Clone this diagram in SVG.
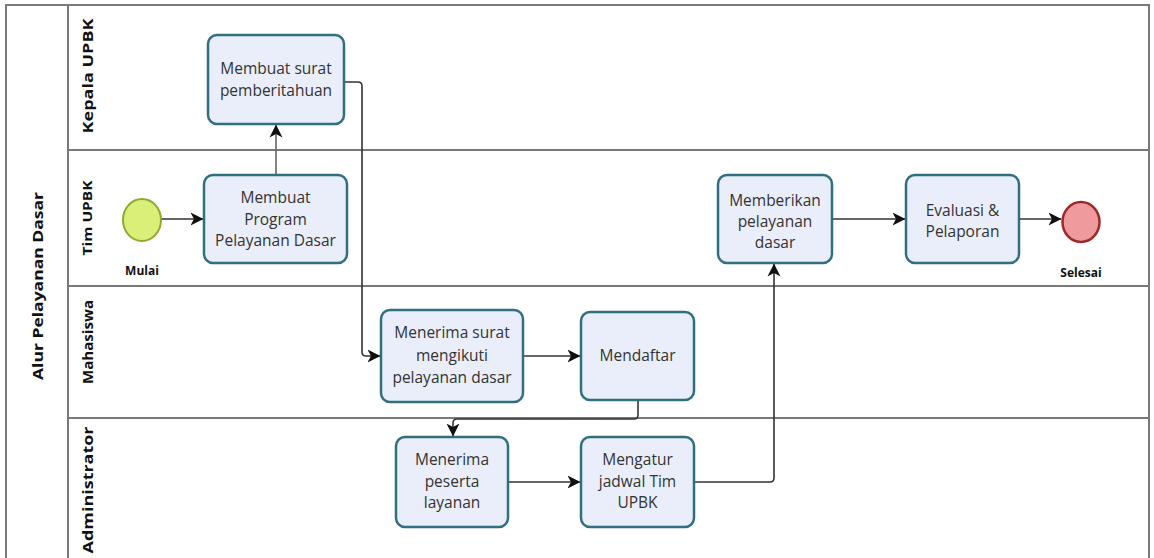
<svg xmlns="http://www.w3.org/2000/svg" width="1154" height="558" viewBox="0 0 1154 558">
<defs>
<marker id="arr" markerUnits="userSpaceOnUse" markerWidth="14" markerHeight="14" viewBox="0 0 14 14" refX="12.5" refY="7" orient="auto">
<path d="M0,0.5 L13,7 L0,13.5 L3.5,7 z" fill="#111"/>
</marker>
</defs>
<style>
.pool{fill:#fff;stroke:#7a7a7a;stroke-width:2}
.lane{stroke:#7a7a7a;stroke-width:2;fill:none}
.task{fill:#e9eefa;stroke:#2f6f80;stroke-width:2.5}
.tt{font-family:"Open Sans","Liberation Sans",sans-serif;font-size:15.5px;fill:#333;text-anchor:middle}
.lbl{font-family:"Open Sans","Liberation Sans",sans-serif;font-size:14px;font-weight:bold;fill:#111;text-anchor:middle;dominant-baseline:central}
.ev{font-family:"Open Sans","Liberation Sans",sans-serif;font-size:12px;font-weight:bold;fill:#111;text-anchor:middle}
.cn{fill:none;stroke:#333;stroke-width:1.6;marker-end:url(#arr)}
</style>
<rect width="1154" height="558" fill="#fff"/>
<g id="pool">
<rect class="pool" x="6" y="5" width="1143" height="565"/>
<line class="lane" x1="68" y1="5" x2="68" y2="558"/>
<line class="lane" x1="68" y1="150" x2="1149" y2="150"/>
<line class="lane" x1="68" y1="286" x2="1149" y2="286"/>
<line class="lane" x1="68" y1="418" x2="1149" y2="418"/>
<text class="lbl" transform="translate(37,286) rotate(-90)" textLength="188" lengthAdjust="spacingAndGlyphs">Alur Pelayanan Dasar</text>
</g>
<g id="lane-kepala"><text class="lbl" transform="translate(87,76) rotate(-90)" textLength="115" lengthAdjust="spacingAndGlyphs">Kepala UPBK</text></g>
<g id="lane-tim"><text class="lbl" style="font-size:12.5px" transform="translate(87,218) rotate(-90)" textLength="75" lengthAdjust="spacingAndGlyphs">Tim UPBK</text></g>
<g id="lane-mahasiswa"><text class="lbl" transform="translate(87,342) rotate(-90)" textLength="84" lengthAdjust="spacingAndGlyphs">Mahasiswa</text></g>
<g id="lane-admin"><text class="lbl" transform="translate(87,490) rotate(-90)" textLength="127" lengthAdjust="spacingAndGlyphs">Administrator</text></g>

<g id="connectors">
<path class="cn" d="M161,219 L203,219"/>
<path class="cn" style="stroke:#666" d="M276,175 L276,125"/>
<path class="cn" d="M344,82 L358,82 Q362,82 362,86 L362,352 Q362,356 366,356 L380,356"/>
<path class="cn" d="M523,356 L580,356"/>
<path class="cn" d="M638,400 L638,415 Q638,419 634,419 L457,419 Q453,419 453,423 L453,436"/>
<path class="cn" d="M508,482 L580,482"/>
<path class="cn" d="M694,482 L770,482 Q774,482 774,478 L774,264"/>
<path class="cn" d="M832,219 L905,219"/>
<path class="cn" d="M1019,219 L1061,219"/>
</g>

<g id="start">
<ellipse cx="142" cy="220" rx="19" ry="21" fill="#d9ef78" stroke="#8daa2c" stroke-width="2"/>
<text class="ev" x="142" y="275">Mulai</text>
</g>
<g id="task-surat">
<rect class="task" x="208" y="35" width="136" height="89" rx="9"/>
<text class="tt" x="276" y="74">Membuat surat</text>
<text class="tt" x="276" y="96">pemberitahuan</text>
</g>
<g id="task-program">
<rect class="task" x="204" y="175" width="143" height="88" rx="9"/>
<text class="tt" x="275.5" y="203">Membuat</text>
<text class="tt" x="275.5" y="225">Program</text>
<text class="tt" x="275.5" y="246">Pelayanan Dasar</text>
</g>
<g id="task-menerima-surat">
<rect class="task" x="381" y="310" width="142" height="92" rx="9"/>
<text class="tt" x="452" y="338">Menerima surat</text>
<text class="tt" x="452" y="361">mengikuti</text>
<text class="tt" x="452" y="383">pelayanan dasar</text>
</g>
<g id="task-mendaftar">
<rect class="task" x="581" y="312" width="113" height="88" rx="9"/>
<text class="tt" x="637.5" y="361">Mendaftar</text>
</g>
<g id="task-menerima-peserta">
<rect class="task" x="396" y="437" width="112" height="90" rx="9"/>
<text class="tt" x="452" y="465">Menerima</text>
<text class="tt" x="452" y="487">peserta</text>
<text class="tt" x="452" y="508">layanan</text>
</g>
<g id="task-mengatur">
<rect class="task" x="581" y="437" width="113" height="90" rx="9"/>
<text class="tt" x="637.5" y="465">Mengatur</text>
<text class="tt" x="637.5" y="487">jadwal Tim</text>
<text class="tt" x="637.5" y="508">UPBK</text>
</g>
<g id="task-memberikan">
<rect class="task" x="718" y="175" width="114" height="88" rx="9"/>
<text class="tt" x="775" y="206">Memberikan</text>
<text class="tt" x="775" y="227">pelayanan</text>
<text class="tt" x="775" y="248">dasar</text>
</g>
<g id="task-evaluasi">
<rect class="task" x="906" y="175" width="113" height="88" rx="9"/>
<text class="tt" x="962.5" y="216">Evaluasi &amp;</text>
<text class="tt" x="962.5" y="237">Pelaporan</text>
</g>
<g id="end">
<ellipse cx="1081" cy="222" rx="18.5" ry="20" fill="#ef9a9c" stroke="#9c2a2a" stroke-width="2.5"/>
<text class="ev" x="1081" y="277">Selesai</text>
</g>
</svg>
